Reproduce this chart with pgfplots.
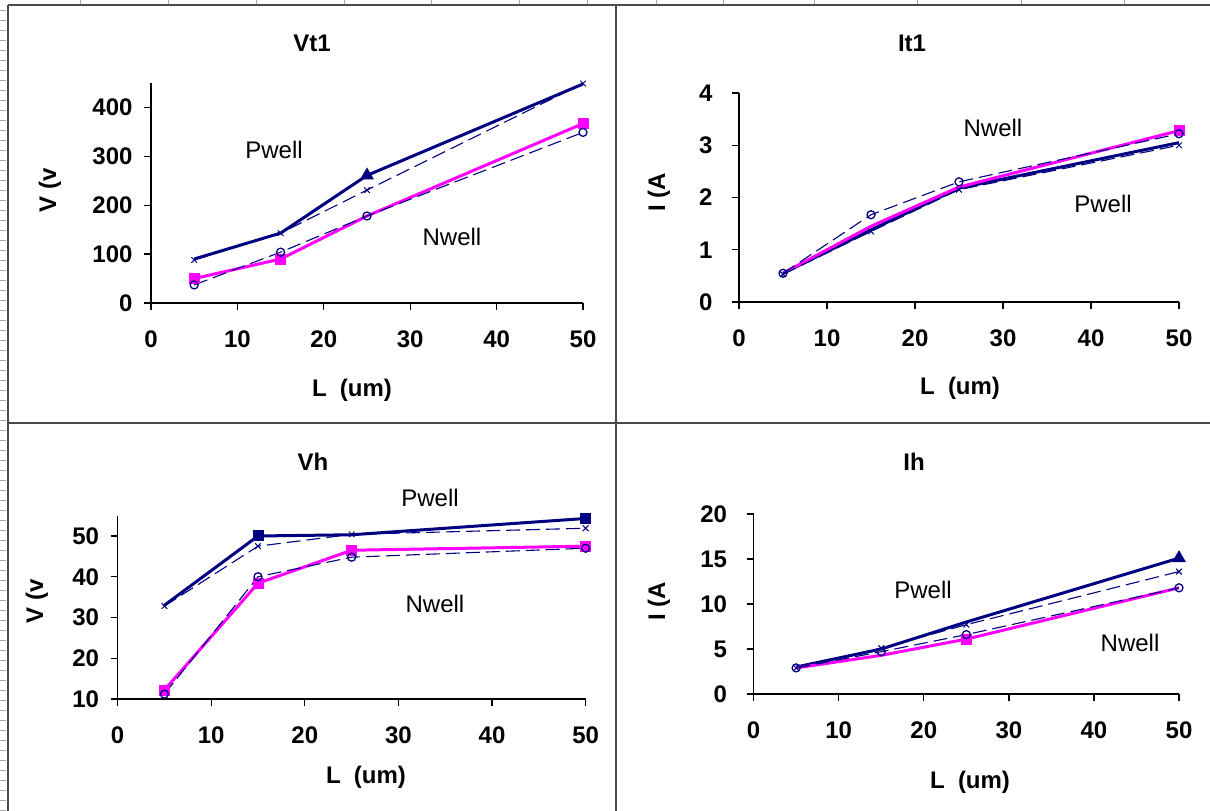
\documentclass[border=0pt]{standalone}
\usepackage{fontspec}
\setmainfont{Liberation Sans}
\usepackage{pgfplots}
\pgfplotsset{compat=1.18}
\definecolor{navy}{HTML}{000080}
\definecolor{pink}{HTML}{FF00FF}
\definecolor{frame}{HTML}{4A4A4A}
\newcommand\bigf{\fontsize{24bp}{28bp}\selectfont}
\pgfplotsset{
 excel/.style={
   scale only axis,
   axis x line*=bottom, axis y line*=left,
   axis line style={black, line width=1.3bp},
   tick style={black, line width=1.3bp},
   tick align=outside,
   major tick length=7bp,
   xmin=0, xmax=50, xtick={0,10,...,50},
   /pgf/number format/assume math mode=true,
   ticklabel style={font=\bigf\bfseries},
   xticklabel style={yshift=-17bp},
   clip=false,
   anchor=south west,
 },
 pw/.style={navy, line width=3bp, mark=triangle*, mark size=5bp},
 pwd/.style={navy, line width=1.1bp, dash pattern=on 14bp off 6bp, mark=x, mark size=4bp, mark options={solid, line width=1bp}},
 nw/.style={pink, line width=3bp, mark=square*, mark size=4bp},
 nwd/.style={navy, line width=1.1bp, dash pattern=on 14bp off 6bp, mark=o, mark size=4bp, mark options={solid, fill=white, line width=1.3bp}},
}
\begin{document}
\begin{tikzpicture}[x=1bp,y=1bp]
\path[use as bounding box] (0,0) rectangle (1210,-811);
% frame
\foreach \xx in {80,168,256,344,431,519,587,656,723,814,917,1021,1124}
  \draw[gray!70, line width=0.8bp] (\xx,0) -- (\xx,-4);
\foreach \yy in {10,20,...,810}
  \draw[gray!70, line width=0.8bp] (0,-\yy) -- (6,-\yy);
\draw[frame, line width=2bp] (8,-5) -- (1210,-5);
\draw[frame, line width=2bp] (8,-5) -- (8,-811);
\draw[frame, line width=2bp] (616,-5) -- (616,-811);
\draw[frame, line width=2bp] (8,-423) -- (1210,-423);

% ---------------- Vt1
\begin{axis}[excel, at={(151bp,-303bp)}, width=432bp, height=220bp,
  ymin=0, ymax=450, ytick={0,100,...,400}, yticklabel style={xshift=-8bp}]
\addplot[pw, mark indices={3}] coordinates {(5,90) (15,143) (25,261) (50,448)};
\addplot[nw, mark indices={1,2,4}] coordinates {(5,50) (15,90) (25,178) (50,367)};
\addplot[pwd] coordinates {(5,88) (15,143) (25,231) (50,449)};
\addplot[nwd] coordinates {(5,37) (15,104) (25,178) (50,349)};
\end{axis}
\node[font=\bigf\bfseries] at (312,-43) {Vt1};
\node[font=\bigf\bfseries] at (352,-390) {L\ \ (um)};
\node[font=\bigf\bfseries, rotate=90] at (50,-190) {V (v};
\node[font=\bigf] at (274,-150) {Pwell};
\node[font=\bigf] at (452,-237) {Nwell};

% ---------------- It1
\begin{axis}[excel, at={(739bp,-302bp)}, width=440bp, height=209bp,
  ymin=0, ymax=4, ytick={0,1,...,4}, yticklabel style={xshift=-16bp}]
\addplot[pw, no markers] coordinates {(5,0.55) (15,1.38) (25,2.18) (50,3.05)};
\addplot[nw, mark indices={4}] coordinates {(5,0.55) (15,1.45) (25,2.2) (50,3.28)};
\addplot[pwd] coordinates {(5,0.53) (15,1.35) (25,2.15) (50,3.0)};
\addplot[nwd] coordinates {(5,0.55) (15,1.67) (25,2.3) (50,3.22)};
\end{axis}
\node[font=\bigf\bfseries] at (912,-43) {It1};
\node[font=\bigf\bfseries] at (960,-388) {L\ \ (um)};
\node[font=\bigf\bfseries, rotate=90] at (659,-192) {I (A};
\node[font=\bigf] at (993,-128) {Nwell};
\node[font=\bigf] at (1103,-204) {Pwell};

% ---------------- Vh
\begin{axis}[excel, at={(117.6bp,-699bp)}, width=468bp, height=183.4bp,
  ymin=10, ymax=55, ytick={10,20,...,50}, yticklabel style={xshift=-8bp}]
\addplot[pw, mark=square*, mark size=4bp, mark indices={2,4}] coordinates {(5,33) (15,50) (25,50.3) (50,54.3)};
\addplot[nw] coordinates {(5,12.2) (15,38.4) (25,46.5) (50,47.5)};
\addplot[pwd] coordinates {(5,32.8) (15,47.5) (25,50.4) (50,51.9)};
\addplot[nwd] coordinates {(5,11.2) (15,40) (25,44.8) (50,47)};
\end{axis}
\node[font=\bigf\bfseries] at (313,-462) {Vh};
\node[font=\bigf\bfseries] at (366,-777) {L\ \ (um)};
\node[font=\bigf\bfseries, rotate=90] at (37,-601) {V (v};
\node[font=\bigf] at (430,-498) {Pwell};
\node[font=\bigf] at (435,-604) {Nwell};

% ---------------- Ih
\begin{axis}[excel, at={(753.6bp,-694bp)}, width=425.4bp, height=180bp,
  ymin=0, ymax=20, ytick={0,5,...,20}, yticklabel style={xshift=-16bp}]
\addplot[pw, mark indices={4}] coordinates {(5,3.0) (15,5.0) (25,8.0) (50,15.1)};
\addplot[nw, mark indices={3}] coordinates {(5,2.9) (15,4.3) (25,6.1) (50,11.8)};
\addplot[pwd] coordinates {(5,2.9) (15,5.1) (25,7.7) (50,13.6)};
\addplot[nwd] coordinates {(5,2.9) (15,4.7) (25,6.6) (50,11.8)};
\end{axis}
\node[font=\bigf\bfseries] at (914,-462) {Ih};
\node[font=\bigf\bfseries] at (970,-782) {L\ \ (um)};
\node[font=\bigf\bfseries, rotate=90] at (659,-601) {I (A};
\node[font=\bigf] at (923,-590) {Pwell};
\node[font=\bigf] at (1130,-643) {Nwell};
\end{tikzpicture}
\end{document}
